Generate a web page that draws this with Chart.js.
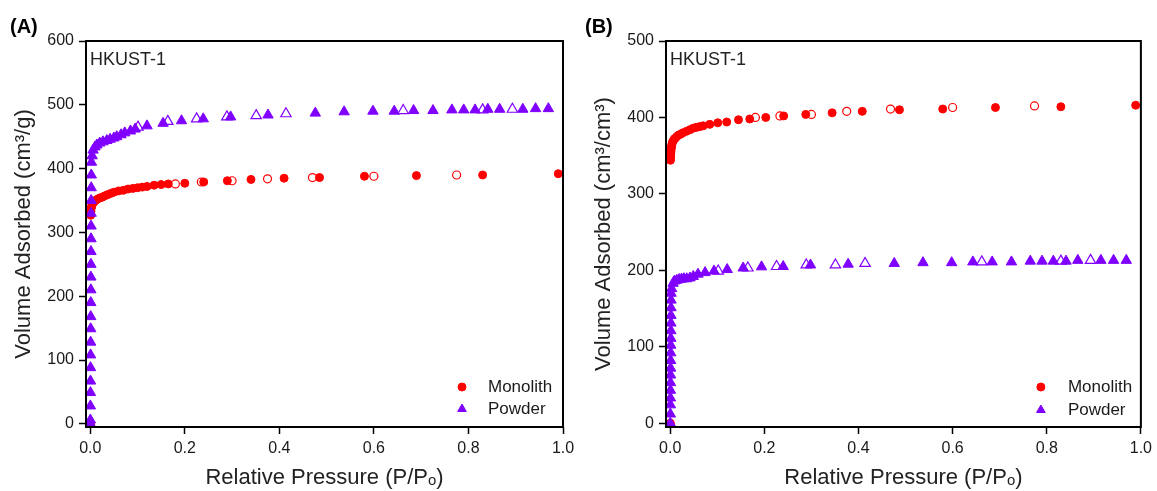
<!DOCTYPE html>
<html>
<head>
<meta charset="utf-8">
<script src="https://cdn.jsdelivr.net/npm/chart.js@4.4.1/dist/chart.umd.min.js"></script>
<style>
  html, body { margin: 0; padding: 0; background: #fff; }
  body { width: 1157px; height: 491px; position: relative; overflow: hidden; }
  #wa { position: absolute; left: 0; top: 0; width: 580px; height: 491px; }
  #wb { position: absolute; left: 580px; top: 0; width: 577px; height: 491px; }
</style>
</head>
<body>
<div id="wa"><canvas id="ca" width="580" height="491"></canvas></div>
<div id="wb"><canvas id="cb" width="577" height="491"></canvas></div>
<script>
// ---------- Data ----------
const seriesNames = ['Monolith', 'Powder'];
const xTicks = [0.0, 0.2, 0.4, 0.6, 0.8, 1.0];
const yTicksA = [0, 100, 200, 300, 400, 500, 600];
const yTicksB = [0, 100, 200, 300, 400, 500];

// Panel A – Monolith (adsorption, filled)
const monoA_ads_x = [0.0005,0.001,0.0015,0.002,0.003,0.004,0.006,0.008,0.011,0.015,0.02,0.025,0.03,0.036,0.043,0.05,0.06,0.07,0.08,0.09,0.1,0.11,0.12,0.135,0.15,0.165,0.2,0.24,0.29,0.34,0.41,0.485,0.58,0.69,0.83,0.99];
const monoA_ads_y = [0,327,333,338,341,344,346,348,350,352,354,355,357,359,361,363,365,366,368,369,370,371,372,374,375,376,377,379,381,383,385,386,388,389,390,392];
// Panel A – Monolith (desorption, open)
const monoA_des_x = [0.18,0.235,0.3,0.375,0.47,0.6,0.775];
const monoA_des_y = [376,379,381,384,386,388,390];
// Panel A – Powder (adsorption, filled)
const powA_ads_x = [0.0001,0.0002,0.0003,0.0004,0.0005,0.0006,0.0007,0.0008,0.0009,0.001,0.0011,0.0012,0.0013,0.0014,0.0015,0.0016,0.0017,0.0018,0.0019,0.002,0.0022,0.0025,
  0.004,0.006,0.01,0.014,0.02,0.027,0.035,0.042,0.05,0.056,0.065,0.073,0.085,0.095,
  0.12,0.154,0.193,0.239,0.297,0.376,0.476,0.537,0.598,
  0.643,0.684,0.725,0.765,0.79,0.814,0.841,0.866,0.915,0.942,0.969];
const powA_ads_y = [0,6,28,49,67,88,108,128,149,168,190,210,230,250,270,290,310,330,350,370,390,410,
  420,429,434,437,440,442,444,446,448,450,453,456,459,462,
  467,471,475,478,481,484,487,489,490,
  490,491,491,492,492,492,493,493,493,494,494];
// Panel A – Powder (desorption, open)
const powA_des_x = [0.101,0.164,0.225,0.289,0.351,0.414,0.662,0.83,0.893];
const powA_des_y = [465,474,478,481,483,486,491,492,493];

// Panel B – Monolith (adsorption, filled)
const monoB_ads_x = [0.0003,0.0005,0.0008,0.001,0.0013,0.0016,0.002,0.0025,0.003,0.004,0.005,0.007,0.009,0.011,0.014,0.018,0.022,0.027,0.035,0.042,0.049,0.056,0.063,0.07,0.084,0.101,0.12,0.145,0.169,0.203,0.241,0.288,0.344,0.408,0.487,0.579,0.691,0.83,0.989];
const monoB_ads_y = [0,344,348,351,354,356,359,361,363,366,368,370,372,373,375,377,378,380,382,384,386,387,388,389,391,393,394,397,398,400,402,404,406,408,410,411,413,414,416];
// Panel B – Monolith (desorption, open)
const monoB_des_x = [0.181,0.233,0.3,0.375,0.468,0.6,0.774];
const monoB_des_y = [400,402,404,408,411,413,415];
// Panel B – Powder (adsorption, filled)
const powB_ads_x = [0.0001,0.0002,0.0003,0.0004,0.0005,0.0006,0.0007,0.0008,0.0009,0.001,0.0011,0.0012,0.0013,0.0014,0.0015,0.0016,0.0017,0.0018,
  0.003,0.006,0.009,0.014,0.019,0.024,0.029,0.035,0.042,0.049,0.059,0.074,0.093,
  0.121,0.155,0.194,0.24,0.298,0.378,
  0.476,0.537,0.598,0.643,0.684,0.725,0.765,0.79,0.814,0.841,0.866,0.915,0.942,0.969];
const powB_ads_y = [0,12,24,33,43,53,63,72,82,92,102,111,121,131,141,151,161,170,
  176,183,186,187,188,188.5,189,189,190,192,195,197,199,
  201,203,204.5,205,207,208,
  209,210,210,211,211,211,212,212,212,212,213,213,213,213];
// Panel B – Powder (desorption, open)
const powB_des_x = [0.102,0.165,0.226,0.289,0.351,0.414,0.662,0.83,0.893];
const powB_des_y = [199,203,205,207,207,209,211,212,213];

// ---------- Styling ----------
const RED = '#ff0000';
const PURPLE = '#8000ff';
const FONT = '"Liberation Sans", Arial, sans-serif';
const TXT = '#1a1a1a';

function pts(xs, ys) { return xs.map((x, i) => ({ x: x, y: ys[i] })); }

function makeDatasets(ma_x, ma_y, md_x, md_y, pa_x, pa_y, pd_x, pd_y) {
  return [
    { label: seriesNames[0], data: pts(ma_x, ma_y), pointStyle: 'circle', pointRadius: 4,
      backgroundColor: RED, borderColor: RED, pointBorderWidth: 1, showLine: false, order: 3, legend: true },
    { label: seriesNames[0] + ' (des)', data: pts(md_x, md_y), pointStyle: 'circle', pointRadius: 4,
      backgroundColor: '#ffffff', borderColor: RED, pointBorderWidth: 1.2, showLine: false, order: 4, legend: false },
    { label: seriesNames[1], data: pts(pa_x, pa_y), pointStyle: 'triangle', pointRadius: 6,
      backgroundColor: PURPLE, borderColor: PURPLE, pointBorderWidth: 1, showLine: false, order: 1, legend: true },
    { label: seriesNames[1] + ' (des)', data: pts(pd_x, pd_y), pointStyle: 'triangle', pointRadius: 6,
      backgroundColor: '#ffffff', borderColor: PURPLE, pointBorderWidth: 1.2, showLine: false, order: 2, legend: false }
  ];
}

const framePlugin = {
  id: 'frameDeco',
  afterDraw(chart, args, opts) {
    const ctx = chart.ctx, a = chart.chartArea;
    ctx.save();
    ctx.strokeStyle = '#000';
    ctx.lineWidth = 2;
    ctx.strokeRect(a.left, a.top, a.right - a.left, a.bottom - a.top);
    // inner label
    ctx.fillStyle = '#222';
    ctx.textAlign = 'left';
    ctx.textBaseline = 'alphabetic';
    ctx.font = '18px ' + FONT;
    ctx.fillText(opts.inner, a.left + 4, a.top + 24);
    // panel label
    ctx.font = 'bold 20px ' + FONT;
    ctx.fillStyle = '#000';
    ctx.fillText(opts.panel, opts.panelX, 33);
    // legend
    const items = chart.data.datasets.filter(d => d.legend);
    items.forEach((d, i) => {
      const cx = a.right - opts.legMarkerDx;
      const cy = a.bottom - opts.legDy[i];
      ctx.fillStyle = d.backgroundColor;
      ctx.strokeStyle = d.borderColor;
      ctx.lineWidth = 1;
      if (Chart.helpers && Chart.helpers.drawPoint) {
        Chart.helpers.drawPoint(ctx, { pointStyle: d.pointStyle, radius: d.pointStyle === 'triangle' ? 5 : 4, rotation: 0, borderWidth: 1 }, cx, cy);
      } else {
        ctx.beginPath(); ctx.arc(cx, cy, 4, 0, Math.PI * 2); ctx.fill();
      }
      ctx.fillStyle = TXT;
      ctx.font = '17px ' + FONT;
      ctx.textBaseline = 'middle';
      ctx.textAlign = 'left';
      ctx.fillText(d.label, a.right - opts.legTextDx, cy);
    });
    ctx.restore();
  }
};

function makeChart(id, datasets, yMin, yMax, yTicks, yTitle, deco, padRight, yWidth) {
  return new Chart(document.getElementById(id), {
    type: 'scatter',
    data: { datasets: datasets },
    options: {
      responsive: false,
      animation: false,
      devicePixelRatio: 1,
      layout: { padding: { left: 0, top: 41, right: padRight, bottom: 0 } },
      plugins: { legend: { display: false }, tooltip: { enabled: false }, frameDeco: deco },
      scales: {
        x: {
          type: 'linear', min: -0.009, max: 1.0,
          afterBuildTicks: s => { s.ticks = xTicks.map(v => ({ value: v })); },
          afterFit: s => { s.height = 64; },
          border: { display: false },
          grid: { drawOnChartArea: false, drawTicks: true, tickLength: 7, tickColor: '#000', tickWidth: 1.5 },
          ticks: { color: TXT, font: { family: FONT, size: 16 }, padding: 5, maxRotation: 0,
                   callback: v => Number(v).toFixed(1) },
          title: { display: true, text: 'Relative Pressure (P/Pₒ)', color: '#222',
                   font: { family: FONT, size: 22 }, padding: { top: 0, bottom: 0 } }
        },
        y: {
          type: 'linear', min: yMin, max: yMax,
          afterBuildTicks: s => { s.ticks = yTicks.map(v => ({ value: v })); },
          afterFit: s => { s.width = yWidth; },
          border: { display: false },
          grid: { drawOnChartArea: false, drawTicks: true, tickLength: 7, tickColor: '#000', tickWidth: 1.5 },
          ticks: { color: TXT, font: { family: FONT, size: 16 }, padding: 5,
                   callback: v => String(Math.round(v)) },
          title: { display: true, text: yTitle, color: '#222',
                   font: { family: FONT, size: 22 }, padding: { top: 11, bottom: 0 } }
        }
      }
    },
    plugins: [framePlugin]
  });
}

makeChart('ca',
  makeDatasets(monoA_ads_x, monoA_ads_y, monoA_des_x, monoA_des_y, powA_ads_x, powA_ads_y, powA_des_x, powA_des_y),
  -5, 600, yTicksA, 'Volume Adsorbed (cm³/g)',
  { inner: 'HKUST-1', panel: '(A)', panelX: 10, legMarkerDx: 101, legTextDx: 75, legDy: [40, 18] },
  17, 86);

makeChart('cb',
  makeDatasets(monoB_ads_x, monoB_ads_y, monoB_des_x, monoB_des_y, powB_ads_x, powB_ads_y, powB_des_x, powB_des_y),
  -5, 500, yTicksB, 'Volume Adsorbed (cm³/cm³)',
  { inner: 'HKUST-1', panel: '(B)', panelX: 5, legMarkerDx: 100, legTextDx: 73, legDy: [40, 17] },
  15, 86);
</script>
</body>
</html>
